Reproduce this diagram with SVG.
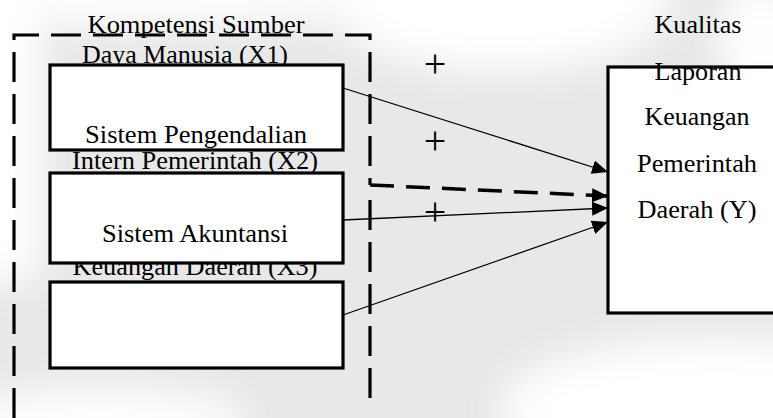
<svg xmlns="http://www.w3.org/2000/svg" width="773" height="418" viewBox="0 0 773 418">
<defs>
<style>
.t{font-family:"Liberation Serif","Times New Roman",serif;font-size:25px;fill:#000;text-anchor:middle}
.p{font-family:"Liberation Serif","Times New Roman",serif;font-size:40px;fill:#000;text-anchor:middle}
.box{fill:#fff;stroke:#000;stroke-width:3.2}
.conn{stroke:#000;stroke-width:1.3;fill:none}
.dash{stroke:#000;stroke-width:3.2;fill:none;stroke-dasharray:30 12}
.dasharr{stroke:#000;stroke-width:3.5;fill:none;stroke-dasharray:24 12}
</style>
<marker id="ah" markerUnits="userSpaceOnUse" markerWidth="16" markerHeight="14" refX="16" refY="7" orient="auto">
<path d="M0,0 L16,7 L0,14 z" fill="#000"/>
</marker>
<filter id="blur" x="-50%" y="-50%" width="200%" height="200%"><feGaussianBlur stdDeviation="18"/></filter>
<clipPath id="clipX3"><rect x="0" y="263" width="400" height="40"/></clipPath>
</defs>
<g id="background">
<rect width="773" height="418" fill="#e8e8e8"/>
<g filter="url(#blur)" fill="#fff">
<ellipse cx="500" cy="0" rx="170" ry="70"/>
<rect x="-40" y="-40" width="80" height="320"/>
<ellipse cx="150" cy="0" rx="260" ry="25"/>
<ellipse cx="720" cy="410" rx="220" ry="70"/>
<ellipse cx="760" cy="40" rx="40" ry="60"/>
<ellipse cx="100" cy="420" rx="150" ry="30"/>
</g>
</g>
<g id="container">
<path class="dash" d="M14,418 V35 H370 V185"/>
<path class="dash" d="M370,200 V405"/>
</g>
<g id="node-x1">
<text class="t" x="196" y="33" textLength="217" lengthAdjust="spacingAndGlyphs">Kompetensi Sumber</text>
<text class="t" x="185" y="63" textLength="206" lengthAdjust="spacingAndGlyphs">Daya Manusia (X1)</text>
<rect class="box" x="50" y="65" width="293" height="85"/>
</g>
<g id="node-x2">
<text class="t" x="196" y="143" textLength="222" lengthAdjust="spacingAndGlyphs">Sistem Pengendalian</text>
<text class="t" x="195" y="169" textLength="246" lengthAdjust="spacingAndGlyphs">Intern Pemerintah (X2)</text>
<rect class="box" x="50" y="173" width="293" height="90"/>
</g>
<g id="node-x3">
<text class="t" x="195" y="242" textLength="186" lengthAdjust="spacingAndGlyphs">Sistem Akuntansi</text>
<text class="t" x="195" y="275" textLength="245" lengthAdjust="spacingAndGlyphs" clip-path="url(#clipX3)">Keuangan Daerah (X3)</text>
<rect class="box" x="50" y="282" width="293" height="86"/>
</g>
<g id="node-y">
<rect class="box" x="608" y="67" width="200" height="246"/>
<text class="t" x="698" y="33" textLength="87" lengthAdjust="spacingAndGlyphs">Kualitas</text>
<text class="t" x="698" y="80" textLength="87" lengthAdjust="spacingAndGlyphs">Laporan</text>
<text class="t" x="697" y="125" textLength="105" lengthAdjust="spacingAndGlyphs">Keuangan</text>
<text class="t" x="697" y="172" textLength="120" lengthAdjust="spacingAndGlyphs">Pemerintah</text>
<text class="t" x="697" y="218" textLength="119" lengthAdjust="spacingAndGlyphs">Daerah (Y)</text>
</g>
<g id="connectors">
<line class="conn" x1="343" y1="88" x2="608" y2="172" marker-end="url(#ah)"/>
<path class="dasharr" d="M370,185 L608,196" marker-end="url(#ah)"/>
<line class="conn" x1="343" y1="220" x2="608" y2="208" marker-end="url(#ah)"/>
<line class="conn" x1="343" y1="315" x2="608" y2="222" marker-end="url(#ah)"/>
</g>
<g id="labels">
<text class="p" x="435" y="77">+</text>
<text class="p" x="435" y="154">+</text>
<text class="p" x="435" y="225">+</text>
</g>
</svg>
